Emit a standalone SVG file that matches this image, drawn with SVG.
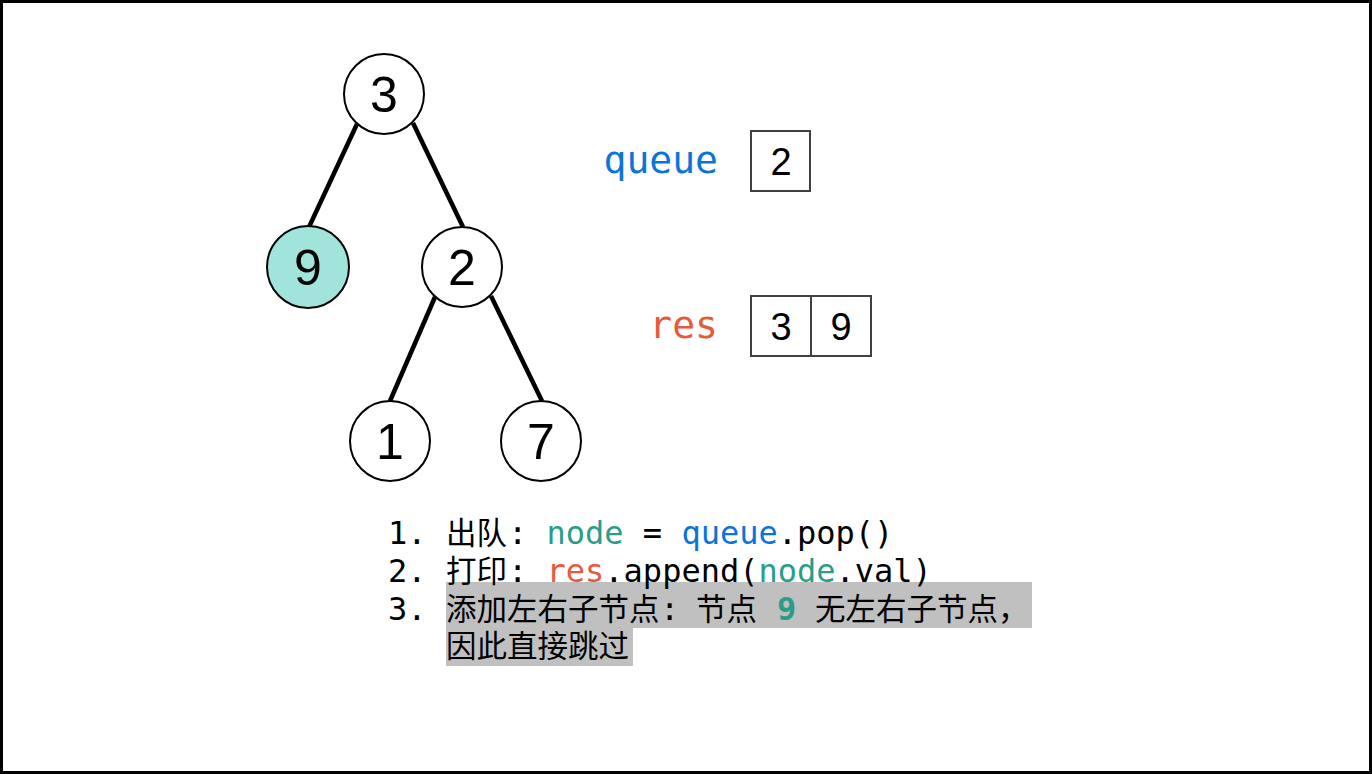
<svg xmlns="http://www.w3.org/2000/svg" width="1372" height="774" viewBox="0 0 1372 774">
<style>
.nc{fill:#fff;stroke:#000;stroke-width:2}
.nt{font-family:"Liberation Sans",Arial,sans-serif;font-size:50px;fill:#000;text-anchor:middle}
.edge{stroke:#000;stroke-width:4.5;stroke-linecap:butt}
.box{fill:#fff;stroke:#404040;stroke-width:2}
.bt{font-family:"Liberation Sans",Arial,sans-serif;font-size:38px;fill:#000;text-anchor:middle}
.mono{font-family:"DejaVu Sans Mono","Noto Sans CJK SC",monospace;font-size:32px;fill:#000}
.cjk{font-family:"Noto Sans CJK SC",sans-serif;font-size:30.5px}
.teal{fill:#2a9d8a}
.blue{fill:#0a74da}
.red{fill:#e65a3c}
.hl{fill:#c0c0c0}
</style>
<rect x="1.5" y="1.5" width="1369" height="771" fill="#fff" stroke="#000" stroke-width="3"/>
<g id="connectors">
<line class="edge" x1="357" y1="124" x2="309" y2="227"/>
<line class="edge" x1="413" y1="123" x2="463" y2="227"/>
<line class="edge" x1="435" y1="297" x2="390" y2="401"/>
<line class="edge" x1="491" y1="296" x2="542" y2="401"/>
</g>
<g id="node-3"><circle class="nc" cx="384" cy="94" r="40"/><text class="nt" x="384" y="112">3</text></g>
<g id="node-9"><circle class="nc" cx="308" cy="267" r="41" style="fill:#a0e4dc"/><text class="nt" x="308" y="285">9</text></g>
<g id="node-2"><circle class="nc" cx="462" cy="267" r="40"/><text class="nt" x="462" y="285">2</text></g>
<g id="node-1"><circle class="nc" cx="390" cy="441" r="40"/><text class="nt" x="390" y="459">1</text></g>
<g id="node-7"><circle class="nc" cx="541" cy="441" r="40"/><text class="nt" x="541" y="459">7</text></g>
<g id="queue">
<text class="mono blue" x="718" y="173" text-anchor="end" style="font-size:38px">queue</text>
<rect class="box" x="751" y="131" width="59" height="60"/>
<text class="bt" x="781" y="175">2</text>
</g>
<g id="res">
<text class="mono red" x="718" y="338" text-anchor="end" style="font-size:38px">res</text>
<rect class="box" x="751" y="296" width="60" height="60"/>
<rect class="box" x="811" y="296" width="60" height="60"/>
<text class="bt" x="781" y="340">3</text>
<text class="bt" x="841" y="340">9</text>
</g>
<g id="steps">
<rect class="hl" x="446" y="582" width="586" height="46"/>
<rect class="hl" x="446" y="628" width="187" height="38"/>
<text class="mono" x="388" y="544">1. <tspan class="cjk" x="446">出队</tspan><tspan x="508">: </tspan><tspan class="teal">node</tspan> = <tspan class="blue">queue</tspan>.pop()</text>
<text class="mono" x="388" y="582">2. <tspan class="cjk" x="446">打印</tspan><tspan x="508">: </tspan><tspan class="red">res</tspan>.append(<tspan class="teal">node</tspan>.val)</text>
<text class="mono" x="388" y="620">3. <tspan class="cjk" x="446">添加左右子节点</tspan><tspan x="660">:</tspan><tspan class="cjk" x="696">节点</tspan><tspan class="teal" x="777" font-weight="bold">9</tspan><tspan class="cjk" x="815">无左右子节点，</tspan></text>
<text class="mono cjk" x="446" y="657">因此直接跳过</text>
</g>
</svg>
